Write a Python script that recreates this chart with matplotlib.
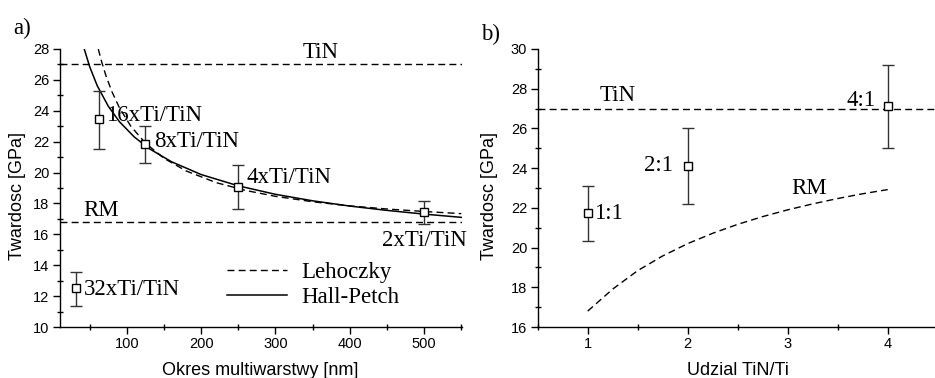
import matplotlib
matplotlib.use("Agg")
import matplotlib.pyplot as plt
from matplotlib.ticker import MultipleLocator
from matplotlib.lines import Line2D

# ---------------- data: panel a ----------------
period = [32, 62, 125, 250, 500]
hard_a = [12.5, 23.45, 21.83, 19.04, 17.42]
err_lo_a = [1.14, 1.93, 1.21, 1.42, 0.72]
err_hi_a = [1.08, 1.85, 1.17, 1.46, 0.73]
labels_a = ["32xTi/TiN", "16xTi/TiN", "8xTi/TiN", "4xTi/TiN", "2xTi/TiN"]
tin_level = 27.0
rm_level = 16.8

# curves
hp_x = [42.6, 50, 60, 75, 90, 110, 130, 160, 200, 250, 300, 350, 400, 450, 500, 550]
hp_y = [28.0, 26.84, 25.63, 24.29, 23.29, 22.30, 21.55, 20.70, 19.87, 19.14, 18.59, 18.17, 17.83, 17.55, 17.31, 17.10]
leh_x = [61.5, 66, 72, 80, 90, 105, 125, 150, 180, 220, 260, 300, 350, 400, 450, 500, 550]
leh_y = [28.0, 27.17, 26.24, 25.22, 24.19, 23.02, 21.90, 20.92, 20.10, 19.35, 18.84, 18.46, 18.11, 17.84, 17.64, 17.48, 17.34]

# ---------------- data: panel b ----------------
ratio = [1, 2, 4]
hard_b = [21.73, 24.13, 27.13]
err_lo_b = [1.40, 1.92, 2.13]
err_hi_b = [1.39, 1.91, 2.08]
labels_b = ["1:1", "2:1", "4:1"]
rm_x = [1.0, 1.25, 1.5, 1.75, 2.0, 2.25, 2.5, 2.75, 3.0, 3.25, 3.5, 3.75, 4.0]
rm_y = [16.8, 17.91, 18.84, 19.58, 20.2, 20.72, 21.17, 21.56, 21.9, 22.2, 22.47, 22.71, 22.92]

serif = "Liberation Serif"
sans = "Liberation Sans"
plt.rcParams["font.family"] = sans

fig = plt.figure(figsize=(9.35, 3.78), dpi=100)
axa = fig.add_axes([0.0642, 0.1349, 0.4299, 0.7355])
axb = fig.add_axes([0.5751, 0.1349, 0.4278, 0.7355])

dash = (0, (5, 3))
ann_fs = 16.5
tick_fs = 10.5
lab_fs = 13

def style(ax):
    for s in ["top", "right"]:
        ax.spines[s].set_visible(False)
    for s in ["left", "bottom"]:
        ax.spines[s].set_linewidth(1.0)
    ax.tick_params(which="major", direction="out", length=5, width=1,
                   labelsize=tick_fs, pad=2.5)
    ax.tick_params(which="minor", direction="inout", length=5, width=1)

# ---------- panel a ----------
axa.axhline(tin_level, color="black", lw=1, ls=dash)
axa.axhline(rm_level, color="black", lw=1, ls=dash)
axa.plot(leh_x, leh_y, color="black", lw=1, ls=dash)
axa.plot(hp_x, hp_y, color="black", lw=1.1, ls="-")
axa.errorbar(period, hard_a, yerr=[err_lo_a, err_hi_a], fmt="s", mfc="white",
             mec="black", mew=1, ms=6, ecolor="#333333", elinewidth=1,
             capsize=4, capthick=1, zorder=5)
axa.set_xlim(10, 551)
axa.set_ylim(10, 28)
axa.xaxis.set_major_locator(MultipleLocator(100))
axa.xaxis.set_minor_locator(MultipleLocator(50))
axa.yaxis.set_major_locator(MultipleLocator(2))
axa.yaxis.set_minor_locator(MultipleLocator(1))
style(axa)
axa.set_xlabel("Okres multiwarstwy [nm]", fontsize=lab_fs, va="center")
axa.set_ylabel("Twardosc [GPa]", fontsize=lab_fs, va="center")
axa.xaxis.set_label_coords(0.499, -0.155)
axa.yaxis.set_label_coords(-0.106, 0.471)

axa.text(361, 27.1, "TiN", family=serif, fontsize=ann_fs, ha="center", va="bottom")
axa.text(41, 16.85, "RM", family=serif, fontsize=ann_fs, ha="left", va="bottom")
pos_a = [(42, 12.4, "left"), (72, 23.7, "left"), (136, 22.0, "left"),
         (261, 19.7, "left"), (443, 15.6, "left")]
for (x, y, ha), t in zip(pos_a, labels_a):
    axa.text(x, y, t, family=serif, fontsize=ann_fs, ha=ha, va="center", clip_on=False)

handles = [Line2D([], [], color="black", lw=1, ls=dash),
           Line2D([], [], color="black", lw=1.1, ls="-")]
leg = axa.legend(handles, ["Lehoczky", "Hall-Petch"], loc="upper left",
                 bbox_to_anchor=(0.387, 0.275), frameon=False,
                 prop={"family": serif, "size": ann_fs}, handlelength=2.6,
                 handletextpad=0.65, labelspacing=0.15, borderpad=0)

# ---------- panel b ----------
axb.axhline(tin_level, color="black", lw=1, ls=dash)
axb.plot(rm_x, rm_y, color="black", lw=1, ls=dash)
axb.errorbar(ratio, hard_b, yerr=[err_lo_b, err_hi_b], fmt="s", mfc="white",
             mec="black", mew=1, ms=6, ecolor="#333333", elinewidth=1,
             capsize=4, capthick=1, zorder=5)
axb.set_xlim(0.5, 4.5)
axb.set_ylim(16, 30)
axb.xaxis.set_major_locator(MultipleLocator(1))
axb.xaxis.set_minor_locator(MultipleLocator(0.5))
axb.yaxis.set_major_locator(MultipleLocator(2))
axb.yaxis.set_minor_locator(MultipleLocator(1))
style(axb)
axb.set_xlabel("Udzial TiN/Ti", fontsize=lab_fs, va="center")
axb.set_ylabel("Twardosc [GPa]", fontsize=lab_fs, va="center")
axb.xaxis.set_label_coords(0.5, -0.155)
axb.yaxis.set_label_coords(-0.1205, 0.471)

axb.text(1.12, 27.15, "TiN", family=serif, fontsize=ann_fs, ha="left", va="bottom")
axb.text(3.04, 22.45, "RM", family=serif, fontsize=ann_fs, ha="left", va="bottom")
pos_b = [(1.06, 21.7, "left"), (1.85, 24.13, "right"), (3.88, 27.43, "right")]
for (x, y, ha), t in zip(pos_b, labels_b):
    axb.text(x, y, t, family=serif, fontsize=ann_fs, ha=ha, va="center")

fig.text(0.014, 0.925, "a)", family=serif, fontsize=ann_fs, ha="left", va="center")
fig.text(0.515, 0.91, "b)", family=serif, fontsize=ann_fs, ha="left", va="center")

fig.savefig("out.png", dpi=100)
